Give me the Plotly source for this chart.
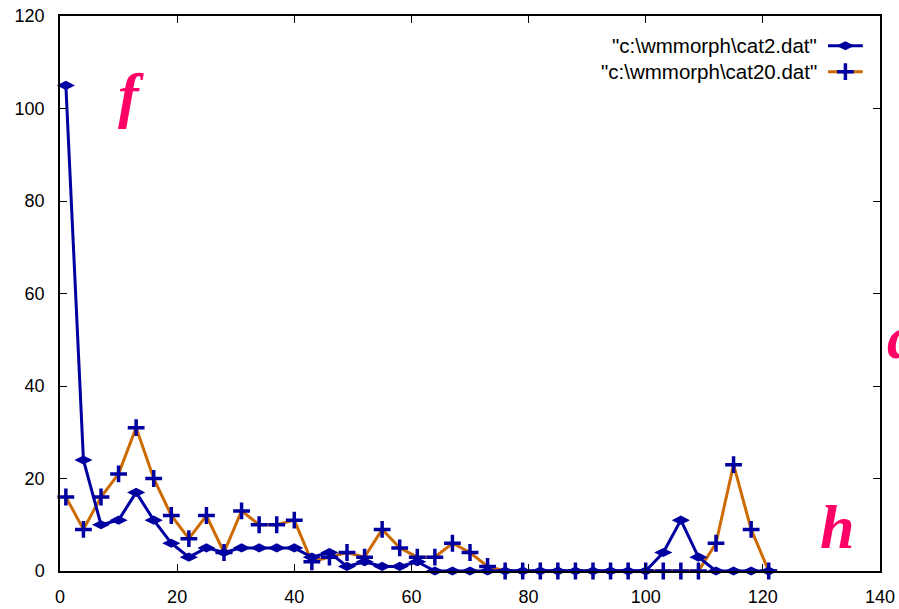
import plotly.graph_objects as go

x_vals = list(range(1, 122, 3))
cat2 = [105, 24, 10, 11, 17, 11, 6, 3, 5, 4, 5, 5, 5, 5, 3, 4, 1, 2, 1, 1, 2,
        0, 0, 0, 0, 0, 0, 0, 0, 0, 0, 0, 0, 0, 4, 11, 3, 0, 0, 0, 0]
cat20 = [16, 9, 16, 21, 31, 20, 12, 7, 12, 4, 13, 10, 10, 11, 2, 3, 4, 3, 9, 5, 3,
         3, 6, 4, 1, 0, 0, 0, 0, 0, 0, 0, 0, 0, 0, 0, 0, 6, 23, 9, 0]
names = [r'"c:\wmmorph\cat2.dat"', r'"c:\wmmorph\cat20.dat"']
x_ticks = [0, 20, 40, 60, 80, 100, 120, 140]
y_ticks = [0, 20, 40, 60, 80, 100, 120]

BLUE = "#0000a0"
ORANGE = "#cc6a00"
PINK = "#ff0066"

PLUS = dict(symbol="cross-thin", size=12, line=dict(color=BLUE, width=3.5))
DIAM = dict(symbol="diamond-wide", size=13, color=BLUE)

fig = go.Figure()
fig.add_trace(go.Scatter(x=x_vals, y=cat20, mode="lines+markers",
                         line=dict(color=ORANGE, width=3), marker=PLUS,
                         showlegend=False, cliponaxis=False))
fig.add_trace(go.Scatter(x=x_vals, y=cat2, mode="lines+markers",
                         line=dict(color=BLUE, width=3), marker=DIAM,
                         showlegend=False, cliponaxis=False))

# legend samples (manual, gnuplot style: text left, sample right)
leg_y = [0.9465, 0.8996]
x0, x1 = 0.9366, 0.979
xm = (x0 + x1) / 2
fig.add_trace(go.Scatter(x=[x0, x1], y=[leg_y[0]] * 2, mode="lines",
                         line=dict(color=BLUE, width=3), xaxis="x2", yaxis="y2", showlegend=False))
fig.add_trace(go.Scatter(x=[xm], y=[leg_y[0]], mode="markers", marker=DIAM,
                         xaxis="x2", yaxis="y2", showlegend=False))
fig.add_trace(go.Scatter(x=[x0, x1], y=[leg_y[1]] * 2, mode="lines",
                         line=dict(color=ORANGE, width=3), xaxis="x2", yaxis="y2", showlegend=False))
fig.add_trace(go.Scatter(x=[xm], y=[leg_y[1]], mode="markers", marker=PLUS,
                         xaxis="x2", yaxis="y2", showlegend=False))

for nm, yy in zip(names, leg_y):
    fig.add_annotation(x=0.9256, y=yy, xref="paper", yref="paper", text=nm, showarrow=False,
                       xanchor="right", yanchor="middle",
                       font=dict(family="Liberation Sans, Arial", size=20.5, color="black"))

# decorative letters
deco = dict(family="Liberation Serif, Times New Roman, serif", size=62, color=PINK, weight="bold", style="italic")
fig.add_annotation(x=0.0863, y=0.858, xref="paper", yref="paper", text="<b><i>f</i></b>", showarrow=False,
                   xanchor="center", yanchor="middle", font=deco)
fig.add_annotation(x=0.947, y=0.079, xref="paper", yref="paper", text="<b><i>h</i></b>", showarrow=False,
                   xanchor="center", yanchor="middle", font=deco)
fig.add_annotation(x=1.006, y=0.4216, xref="paper", yref="paper", text="<b><i>a</i></b>", showarrow=False,
                   xanchor="left", yanchor="middle", font=deco)

axis_common = dict(showline=True, linecolor="black", linewidth=1.5, mirror="ticks",
                   ticks="inside", ticklen=7, tickwidth=1.2, tickcolor="black",
                   showgrid=False, zeroline=False, automargin=False,
                   tickfont=dict(family="Liberation Sans, Arial", size=18, color="black"))

fig.update_layout(
    width=899, height=609,
    margin=dict(l=60, r=19, t=16, b=38),
    paper_bgcolor="white", plot_bgcolor="white",
    xaxis=dict(range=[0, 140], tickvals=x_ticks, ticklabelstandoff=9, **axis_common),
    yaxis=dict(range=[0, 120], tickvals=y_ticks, ticklabelstandoff=10, **axis_common),
    xaxis2=dict(overlaying="x", range=[0, 1], visible=False, fixedrange=True),
    yaxis2=dict(overlaying="y", range=[0, 1], visible=False, fixedrange=True),
    showlegend=False,
)

fig.write_html("out.html", config={"displayModeBar": False},
               post_script="document.body.style.margin='0';document.body.style.overflow='hidden';")
